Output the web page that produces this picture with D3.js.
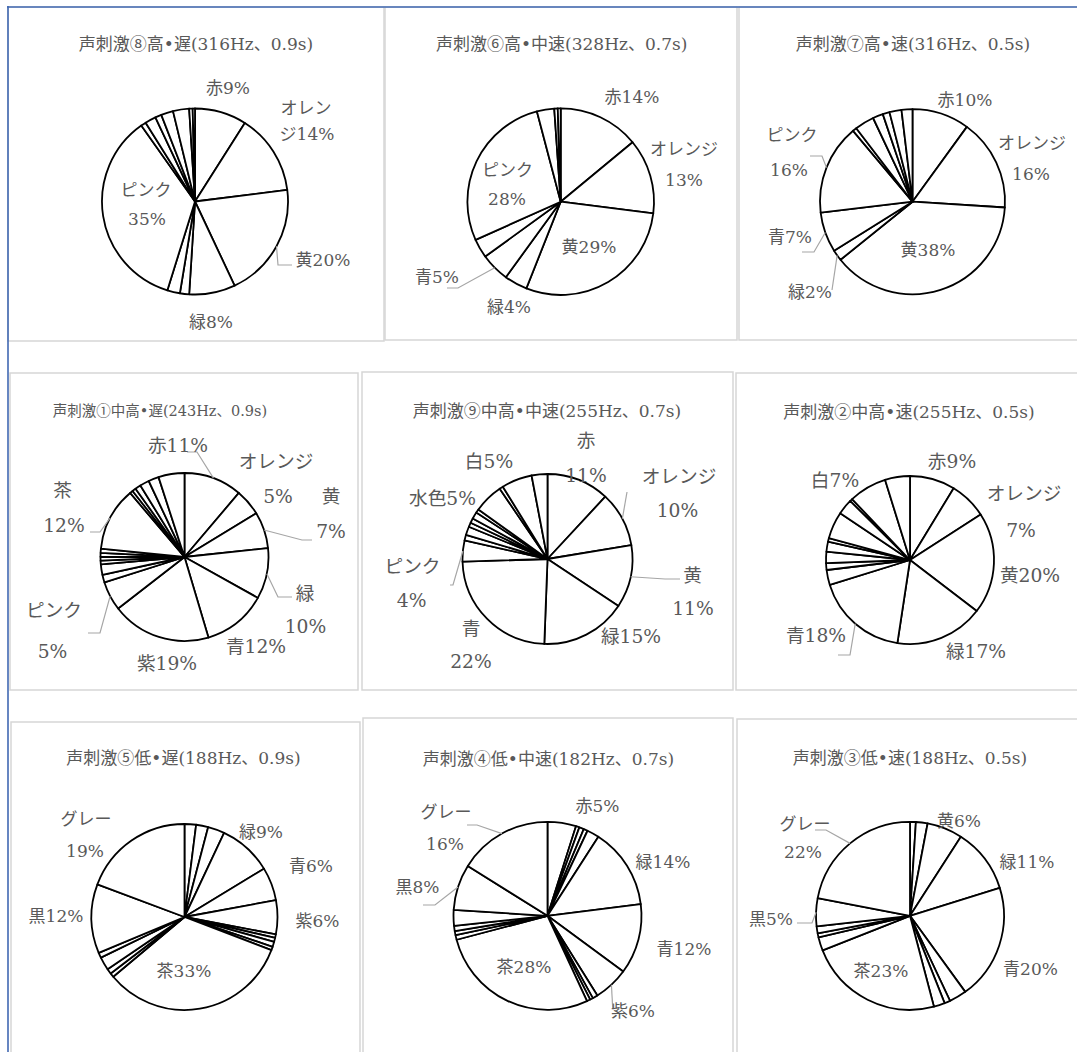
<!DOCTYPE html>
<html><head><meta charset="utf-8">
<script src="https://cdn.jsdelivr.net/npm/d3@7"></script>
<style>
html,body{margin:0;padding:0;background:#fff;}
svg text{font-family:"DejaVu Serif","Noto Sans CJK JP",serif;fill:#595959;}
</style></head><body>
<svg id="chart" width="1077" height="1052"></svg>
<script>
// ---- data ----
const titles = [
  "声刺激⑧高•遅(316Hz、0.9s)", "声刺激⑥高•中速(328Hz、0.7s)", "声刺激⑦高•速(316Hz、0.5s)",
  "声刺激①中高•遅(243Hz、0.9s)", "声刺激⑨中高•中速(255Hz、0.7s)", "声刺激②中高•速(255Hz、0.5s)",
  "声刺激⑤低•遅(188Hz、0.9s)", "声刺激④低•中速(182Hz、0.7s)", "声刺激③低•速(188Hz、0.5s)"
];
const s8Values = [9,14,20,8,1.6,2.2,35.4,0.9,1.9,1.1,2.1,2.8,0.6,0.4];
const s8Labels = ["赤9%","オレン\nジ14%","黄20%","緑8%","","","ピンク\n35%","","","","","","",""];
const s6Values = [14,13,29,4,5,3.3,27.6,3.0,0.6,0.5];
const s6Labels = ["赤14%","オレンジ\n13%","黄29%","緑4%","青5%","","ピンク\n28%","","",""];
const s7Values = [10,16,38.2,1.9,7,15.8,0.7,3.4,1.8,1.2,2.1,1.9];
const s7Labels = ["赤10%","オレンジ\n16%","黄38%","緑2%","青7%","ピンク\n16%","","","","","",""];
const s1Values = [11.2,5.1,7.0,9.8,12.3,19.1,5.6,1.5,2.0,0.7,0.75,0.75,0.8,12.2,0.6,0.7,1.1,1.8,2.0,5.0];
const s1Labels = ["赤11%","オレンジ\n5%","黄\n7%","緑\n10%","青12%","紫19%","ピンク\n5%","","","","","","","茶\n12%","","","","","",""];
const s9Values = [11.9,10.5,11.9,16.3,23.9,4.0,1.1,1.6,0.8,0.9,1.3,0.7,5.6,0.7,5.8,3.0];
const s9Labels = ["赤\n11%","オレンジ\n10%","黄\n11%","緑15%","青\n22%","ピンク\n4%","","","","","","","水色5%","","白5%",""];
const s2Values = [8.7,7.2,19.5,17.0,17.8,2.9,1.3,2.2,1.9,0.7,5.2,3.0,0.5,7.3,4.8];
const s2Labels = ["赤9%","オレンジ\n7%","黄20%","緑17%","青18%","","","","","","","","","白7%",""];
const s5Values = [2.0,2.1,2.9,9.3,5.8,5.9,0.6,0.7,0.9,0.6,33.1,0.7,0.9,2.3,0.9,12.0,19.3];
const s5Labels = ["","","","緑9%","青6%","紫6%","","","","","茶33%","","","","","黒12%","グレー\n19%"];
const s4Values = [4.9,0.6,0.8,0.7,2.1,13.9,12.1,6.0,0.9,0.5,0.6,27.8,0.8,0.7,0.9,2.7,7.9,16.1];
const s4Labels = ["赤5%","","","","","緑14%","青12%","紫6%","","","","茶28%","","","","","黒8%","グレー\n16%"];
const s3Values = [1.0,2.0,6.1,11.1,19.8,3.0,1.0,1.9,23.1,2.3,0.7,1.2,4.8,22.0];
const s3Labels = ["","","黄6%","緑11%","青20%","","","","茶23%","","","","黒5%","グレー\n22%"];

// ---- layout (positions / sizes only) ----
const layout = [
  {vals:s8Values, labs:s8Labels, rect:[8,7,376,334], cx:195, cy:201.5, r:93, title:[196,50,17], fs:17,
   place:{0:{at:[[228,94]]},1:{at:[[306,114],[307,140]]},2:{at:[[323,266]],leader:[[292,265],[278,265]]},
          3:{at:[[211,328]]},6:{at:[[146,196],[147,225]]}}},
  {vals:s6Values, labs:s6Labels, rect:[385,7,352,333], cx:560.7, cy:201.7, r:93.3, title:[561.7,50,17], fs:17,
   place:{0:{at:[[632,103]]},1:{at:[[684,155],[684,186]]},2:{at:[[589,253]]},3:{at:[[509,313]]},
          4:{at:[[437,283]],leader:[[447,288],[458,288]]},6:{at:[[507.5,176],[507,205]]}}},
  {vals:s7Values, labs:s7Labels, rect:[739,7,345,333], cx:912.5, cy:201.7, r:92.5, title:[913,50,17], fs:17,
   place:{0:{at:[[965,106]]},1:{at:[[1032,149],[1031,180]]},2:{at:[[928,256]]},
          3:{at:[[810,298]],leader:[[832,290]]},4:{at:[[790,243]],leader:[[802,252],[814,252]]},
          5:{at:[[792,141],[789,176]],leader:[[810,156],[822,156]]}}},
  {vals:s1Values, labs:s1Labels, rect:[10,373,348,317], cx:184.5, cy:557, r:84, title:[160,416,14.5], fs:18.7,
   place:{0:{at:[[178,452]],leader:[[187,452],[197,452]]},1:{at:[[276,468],[278,503]]},
          2:{at:[[331,503],[331,538]],leader:[[312,540],[302,540]]},3:{at:[[305,600],[305.5,633]],leader:[[292,597],[278,597]]},
          4:{at:[[256,653]]},5:{at:[[167,670]]},6:{at:[[54,617],[52.5,658]],leader:[[88,633],[100,633]]},
          13:{at:[[62.5,497],[64,532]],leader:[[90,532],[100,532]]}}},
  {vals:s9Values, labs:s9Labels, rect:[362,372,371,318], cx:547.5, cy:559, r:85, title:[547,417,17], fs:18.7,
   place:{0:{at:[[586,447],[586,482]]},1:{at:[[679,483],[677.5,517]],leader:[[627,492]]},
          2:{at:[[692.5,582],[693,615]],leader:[[680,579],[665,579]]},3:{at:[[631,643]]},4:{at:[[471,635],[471,668]]},
          5:{at:[[412.5,573],[411.7,607]],leader:[[450,585],[453,585]]},12:{at:[[442.5,505]]},14:{at:[[489,468]]}}},
  {vals:s2Values, labs:s2Labels, rect:[736,373,348,317], cx:910, cy:560, r:84, title:[909,418,17], fs:18.7,
   place:{0:{at:[[952,468]]},1:{at:[[1024,500],[1021,537]]},2:{at:[[1030,582]]},3:{at:[[976,658]]},
          4:{at:[[816,642]],leader:[[838,655],[850,655]]},13:{at:[[835,487]]}}},
  {vals:s5Values, labs:s5Labels, rect:[11,722,349,340], cx:184.5, cy:917, r:93, title:[183.5,764,17], fs:17,
   place:{3:{at:[[261,838]]},4:{at:[[311,872]]},5:{at:[[317.5,927]]},10:{at:[[184,977]]},15:{at:[[56,922]]},
          16:{at:[[86,825],[85,857]]}}},
  {vals:s4Values, labs:s4Labels, rect:[363,718,370,344], cx:547.5, cy:915.8, r:94, title:[548.5,765,17], fs:17,
   place:{0:{at:[[597.5,812]]},5:{at:[[663,868]]},6:{at:[[684,955]]},7:{at:[[633,1017]],leader:[[612.7,1008]]},
          11:{at:[[524,973]]},16:{at:[[417.5,893]],leader:[[423,905],[435,905]]},
          17:{at:[[446,818],[445,850]],leader:[[467,825],[477,825]]}}},
  {vals:s3Values, labs:s3Labels, rect:[737,719,347,343], cx:910, cy:915.8, r:94, title:[910,764,17], fs:17,
   place:{2:{at:[[959,827]]},3:{at:[[1027,868]]},4:{at:[[1030.5,975]]},8:{at:[[881,977]]},
          12:{at:[[771,925]],leader:[[797,923],[812,923]]},13:{at:[[805,830],[803,858]],leader:[[815,830],[826,830]]}}}
];

const svg = d3.select("#chart");
svg.append("rect").attr("width",1077).attr("height",1052).attr("fill","#fff");

const pie = d3.pie().sort(null).value(d => d);

layout.forEach((p, k) => {
  const g = svg.append("g");
  g.append("rect").attr("x",p.rect[0]).attr("y",p.rect[1]).attr("width",p.rect[2]).attr("height",p.rect[3])
    .attr("fill","#fff").attr("stroke","#d6d6d6").attr("stroke-width",1.5);
  g.append("text").attr("x",p.title[0]).attr("y",p.title[1]).attr("text-anchor","middle")
    .style("font-size",p.title[2]+"px").text(titles[k]);

  const arcs = pie(p.vals);
  const arc = d3.arc().innerRadius(0).outerRadius(p.r);
  const pg = g.append("g").attr("transform",`translate(${p.cx},${p.cy})`);
  pg.selectAll("path").data(arcs).join("path")
    .attr("d",arc).attr("fill","#fff").attr("stroke","#000")
    .attr("stroke-width",1.8).attr("stroke-linejoin","round");

  arcs.forEach((d, i) => {
    const pl = p.place[i];
    if (!pl || !p.labs[i]) return;
    if (pl.leader) {
      const a = (d.startAngle + d.endAngle) / 2;
      const pts = pl.leader.concat([[p.cx + p.r*Math.sin(a), p.cy - p.r*Math.cos(a)]]);
      g.append("path").attr("d", d3.line()(pts)).attr("fill","none")
        .attr("stroke","#a6a6a6").attr("stroke-width",1.2);
    }
    const lines = p.labs[i].split("\n");
    lines.forEach((t, j) => {
      const pos = pl.at[j] || pl.at[0];
      g.append("text").attr("x",pos[0]).attr("y",pos[1]).attr("text-anchor","middle")
        .style("font-size",p.fs+"px").text(t);
    });
  });
});

// outer blue frame lines
svg.append("line").attr("x1",7).attr("y1",7).attr("x2",1077).attr("y2",7)
  .attr("stroke","#4068b2").attr("stroke-width",1.6);
svg.append("line").attr("x1",8).attr("y1",6).attr("x2",8).attr("y2",1052)
  .attr("stroke","#4068b2").attr("stroke-width",1.6);
</script>
</body></html>
